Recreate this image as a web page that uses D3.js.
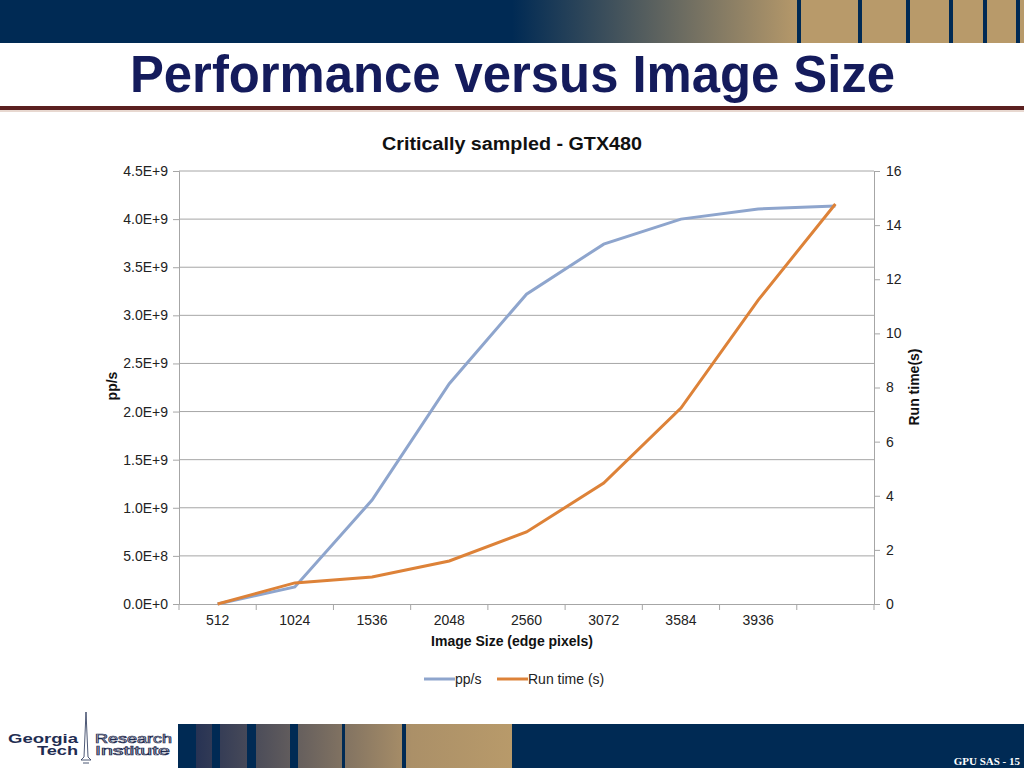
<!DOCTYPE html>
<html>
<head>
<meta charset="utf-8">
<script src="https://cdn.jsdelivr.net/npm/d3@7"></script>
<style>
  body { margin: 0; background: #fff; }
  svg { display: block; font-family: "Liberation Sans", Arial, sans-serif; }
</style>
</head>
<body>
<div id="chart"></div>
<script>
// chart data
const categories = ['512', '1024', '1536', '2048', '2560', '3072', '3584', '3936', ''];
const ppsValues = [0, 0.177e9, 1.08e9, 2.29e9, 3.22e9, 3.74e9, 4.0e9, 4.105e9, 4.135e9];
const runTimeValues = [0, 0.78, 1.0, 1.59, 2.66, 4.47, 7.24, 11.23, 14.78];
const leftTicks = [0, 0.5e9, 1e9, 1.5e9, 2e9, 2.5e9, 3e9, 3.5e9, 4e9, 4.5e9];
const rightTicks = [0, 2, 4, 6, 8, 10, 12, 14, 16];

const width = 1024;
const height = 768;
const margin = {top: 171, bottom: 164, left: 179, right: 150};

const navy = '#002a54';
const tan = '#b89a6a';

const svg = d3.select('#chart')
  .append('svg')
  .attr('width', width)
  .attr('height', height);

const defs = svg.append('defs');
const topGrad = defs.append('linearGradient').attr('id', 'topGrad');
topGrad.append('stop').attr('offset', '0%').attr('stop-color', navy);
topGrad.append('stop').attr('offset', '100%').attr('stop-color', tan);
const botGrad = defs.append('linearGradient').attr('id', 'botGrad');
botGrad.append('stop').attr('offset', '0%').attr('stop-color', '#1c2b52');
botGrad.append('stop').attr('offset', '70%').attr('stop-color', '#ab9068');
botGrad.append('stop').attr('offset', '100%').attr('stop-color', tan);

// header band
svg.append('rect').attr('x', 0).attr('y', 0).attr('width', 512).attr('height', 43).attr('fill', navy);
svg.append('rect').attr('x', 512).attr('y', 0).attr('width', 290).attr('height', 43).attr('fill', 'url(#topGrad)');
svg.append('rect').attr('x', 800).attr('y', 0).attr('width', 224).attr('height', 43).attr('fill', tan);
[797, 858, 906, 949, 983, 1016].forEach(x => {
  svg.append('rect').attr('x', x).attr('y', 0).attr('width', 4).attr('height', 43).attr('fill', navy);
});

svg.append('text')
  .attr('x', 130).attr('y', 92)
  .attr('font-size', 51).attr('font-weight', 'bold')
  .attr('fill', '#141b5c')
  .attr('textLength', 765)
  .attr('lengthAdjust', 'spacingAndGlyphs')
  .text('Performance versus Image Size');

svg.append('rect').attr('x', 0).attr('y', 106).attr('width', width).attr('height', 4).attr('fill', '#5b1f1f');
svg.append('rect').attr('x', 0).attr('y', 110).attr('width', width).attr('height', 2).attr('fill', '#e8d8d0');

// footer band
svg.append('rect').attr('x', 178).attr('y', 724).attr('width', 334).attr('height', 44).attr('fill', 'url(#botGrad)');
svg.append('rect').attr('x', 512).attr('y', 724).attr('width', 512).attr('height', 44).attr('fill', navy);
[[178, 18], [212, 8], [247, 9], [290, 8], [342, 3], [402, 4]].forEach(([x, w]) => {
  svg.append('rect').attr('x', x).attr('y', 724).attr('width', w).attr('height', 44).attr('fill', navy);
});
svg.append('text')
  .attr('x', 1020).attr('y', 765)
  .attr('text-anchor', 'end')
  .attr('font-family', '"Liberation Serif", serif')
  .attr('font-size', 11).attr('font-weight', 'bold')
  .attr('fill', '#fff')
  .text('GPU SAS - 15');

// logo
const logo = svg.append('g');
logo.append('text').attr('x', 8).attr('y', 743)
  .attr('font-size', 12).attr('font-weight', 'bold').attr('fill', '#1f2d52')
  .attr('textLength', 70).attr('lengthAdjust', 'spacingAndGlyphs').text('Georgia');
logo.append('text').attr('x', 37).attr('y', 755)
  .attr('font-size', 12).attr('font-weight', 'bold').attr('fill', '#1f2d52')
  .attr('textLength', 41).attr('lengthAdjust', 'spacingAndGlyphs').text('Tech');
logo.append('path').attr('d', 'M86,712 L84,757 L81,760 L91,760 L88,757 Z M83,763 L89,763')
  .attr('fill', 'none').attr('stroke', '#1f2d52').attr('stroke-width', 0.8);
logo.append('text').attr('x', 95).attr('y', 743)
  .attr('font-size', 12).attr('fill', '#fff').attr('stroke', '#1f2d52').attr('stroke-width', 0.7)
  .attr('textLength', 77).attr('lengthAdjust', 'spacingAndGlyphs').text('Research');
logo.append('text').attr('x', 95).attr('y', 755)
  .attr('font-size', 12).attr('fill', '#fff').attr('stroke', '#1f2d52').attr('stroke-width', 0.7)
  .attr('textLength', 75).attr('lengthAdjust', 'spacingAndGlyphs').text('Institute');

// scales
const x = d3.scaleBand()
  .domain(d3.range(categories.length))
  .range([margin.left, width - margin.right]);

const yLeft = d3.scaleLinear()
  .domain([0, 4.5e9])
  .range([height - margin.bottom, margin.top]);

const yRight = d3.scaleLinear()
  .domain([0, 16])
  .range([height - margin.bottom, margin.top]);

const grey = '#a6a6a6';

// gridlines
svg.append('g')
  .selectAll('line')
  .data(leftTicks.slice(1))
  .join('line')
    .attr('x1', margin.left).attr('x2', width - margin.right)
    .attr('y1', d => yLeft(d)).attr('y2', d => yLeft(d))
    .attr('stroke', grey).attr('stroke-width', 1);

function leftAxis(g) {
  g.attr('transform', `translate(${margin.left},0)`)
    .call(d3.axisLeft(yLeft).tickValues(leftTicks).tickSize(6).tickPadding(5)
      .tickFormat(d => d3.format('.1e')(d).replace('e+', 'E+')))
    .attr('font-size', 14).attr('font-family', null);
  g.select('.domain').attr('stroke', grey);
  g.selectAll('.tick line').attr('stroke', grey);
  g.selectAll('.tick text').attr('fill', '#222');
}

function rightAxis(g) {
  g.attr('transform', `translate(${width - margin.right},0)`)
    .call(d3.axisRight(yRight).tickValues(rightTicks).tickSize(6).tickPadding(6))
    .attr('font-size', 14).attr('font-family', null);
  g.select('.domain').attr('stroke', grey);
  g.selectAll('.tick line').attr('stroke', grey);
  g.selectAll('.tick text').attr('fill', '#222');
}

function bottomAxis(g) {
  g.attr('transform', `translate(0,${height - margin.bottom})`)
    .call(d3.axisBottom(x).tickFormat(i => categories[i]).tickSize(0).tickPadding(11))
    .attr('font-size', 14).attr('font-family', null);
  g.select('.domain').attr('stroke', grey);
  g.selectAll('.tick text').attr('fill', '#222');
  g.selectAll('.sep')
    .data(d3.range(categories.length + 1))
    .join('line')
      .attr('class', 'sep')
      .attr('x1', i => margin.left + i * x.step()).attr('x2', i => margin.left + i * x.step())
      .attr('y1', 0).attr('y2', 6)
      .attr('stroke', grey);
}

svg.append('g').call(leftAxis);
svg.append('g').call(rightAxis);
svg.append('g').call(bottomAxis);

const cx = i => x(i) + x.bandwidth() / 2;

svg.append('path')
  .datum(ppsValues)
  .attr('fill', 'none')
  .attr('stroke', '#8ea5cd')
  .attr('stroke-width', 3)
  .attr('d', d3.line().x((d, i) => cx(i)).y(d => yLeft(d)));

svg.append('path')
  .datum(runTimeValues)
  .attr('fill', 'none')
  .attr('stroke', '#dd8238')
  .attr('stroke-width', 3)
  .attr('d', d3.line().x((d, i) => cx(i)).y(d => yRight(d)));

// titles
svg.append('text')
  .attr('x', 512).attr('y', 150)
  .attr('text-anchor', 'middle')
  .attr('font-size', 18).attr('font-weight', 'bold').attr('fill', '#111')
  .attr('textLength', 260).attr('lengthAdjust', 'spacingAndGlyphs')
  .text('Critically sampled - GTX480');

svg.append('text')
  .attr('transform', 'translate(117,386) rotate(-90)')
  .attr('text-anchor', 'middle')
  .attr('font-size', 14).attr('font-weight', 'bold').attr('fill', '#111')
  .text('pp/s');

svg.append('text')
  .attr('transform', 'translate(919,387) rotate(-90)')
  .attr('text-anchor', 'middle')
  .attr('font-size', 14).attr('font-weight', 'bold').attr('fill', '#111')
  .text('Run time(s)');

svg.append('text')
  .attr('x', 512).attr('y', 646)
  .attr('text-anchor', 'middle')
  .attr('font-size', 14).attr('font-weight', 'bold').attr('fill', '#111')
  .text('Image Size (edge pixels)');

// legend
const legend = [
  {name: 'pp/s', color: '#8ea5cd', x: 424},
  {name: 'Run time (s)', color: '#dd8238', x: 497}
];
const lg = svg.append('g')
  .selectAll('g')
  .data(legend)
  .join('g')
    .attr('transform', d => `translate(${d.x},679)`);
lg.append('line').attr('x1', 0).attr('x2', 31).attr('stroke', d => d.color).attr('stroke-width', 3);
lg.append('text').attr('x', 31).attr('y', 5)
  .attr('font-size', 14).attr('fill', '#222')
  .text(d => d.name);
</script>
</body>
</html>
